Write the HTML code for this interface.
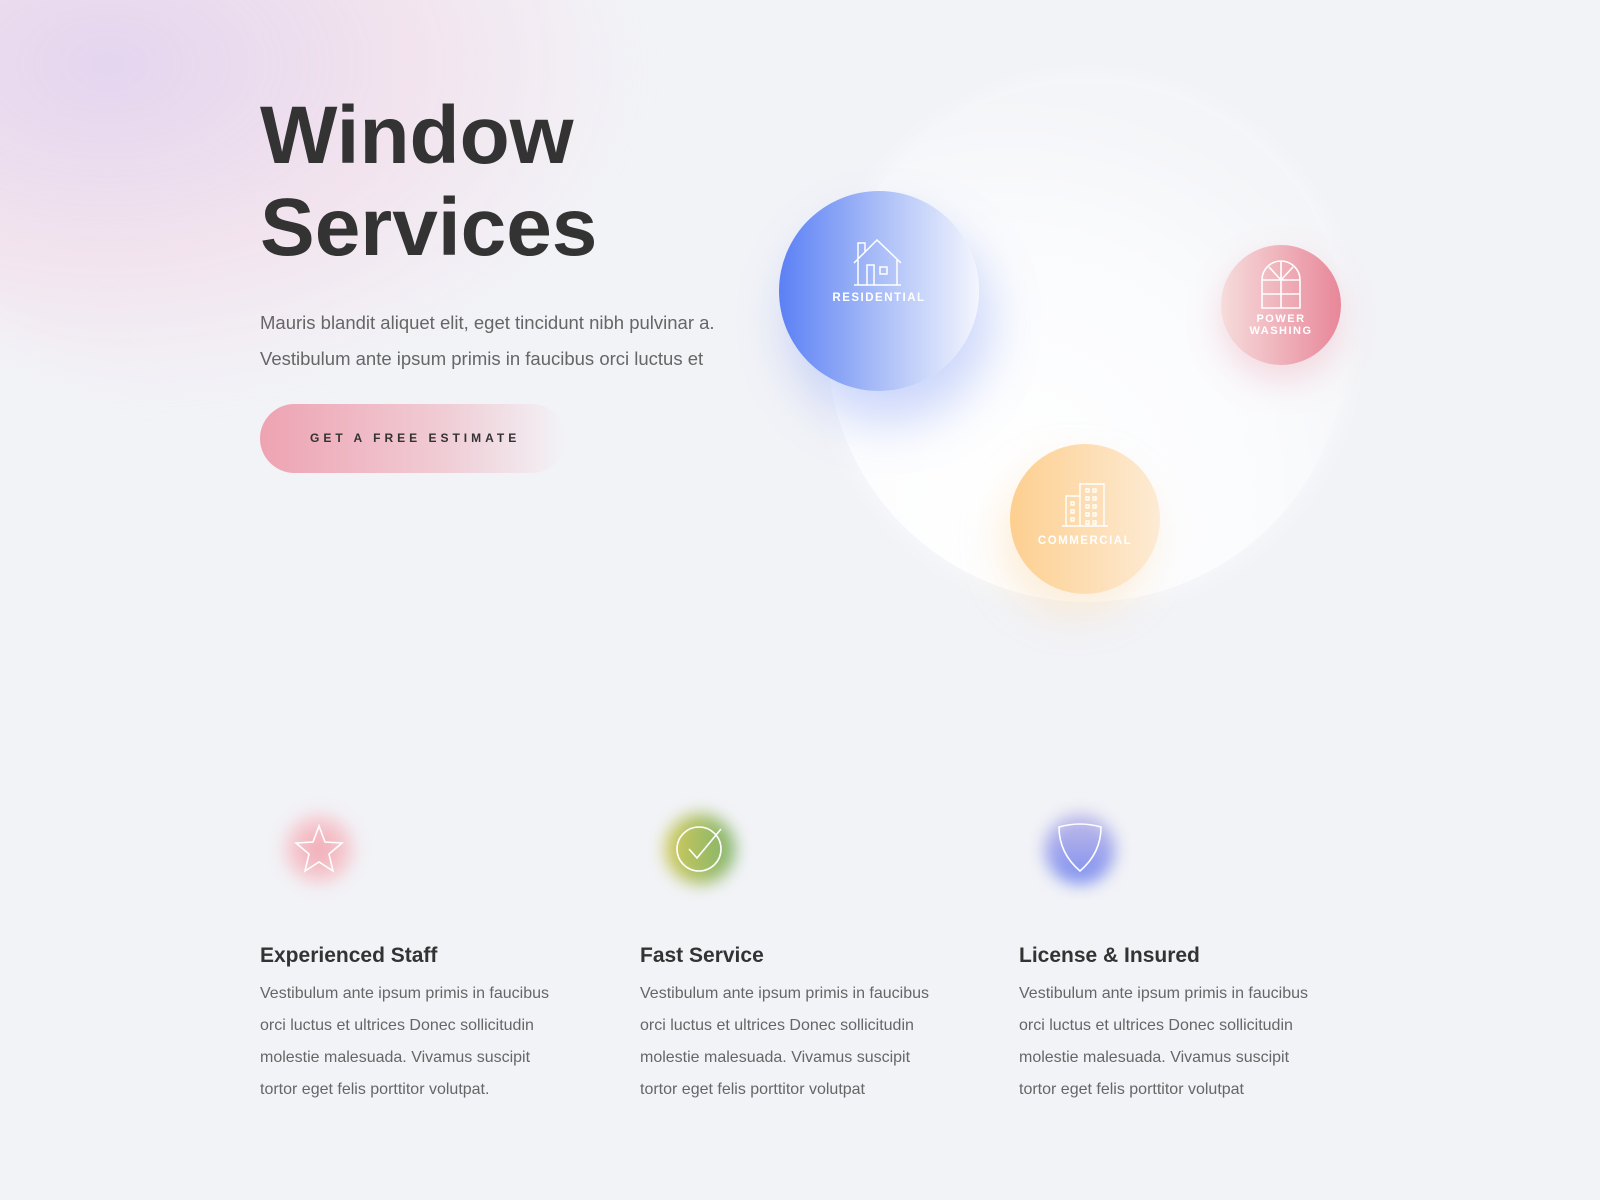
<!DOCTYPE html>
<html><head><meta charset="utf-8"><style>
*{margin:0;padding:0;box-sizing:border-box}
body{width:1600px;height:1200px;background:#f2f3f7;position:relative;overflow:hidden;font-family:"Liberation Sans",sans-serif}
.abs{position:absolute}
.blob{left:-120px;top:-160px;width:760px;height:560px;border-radius:50%;background:radial-gradient(ellipse at 30% 40%,rgba(222,200,236,.7),rgba(242,214,230,.55) 40%,rgba(242,243,247,0) 70%);filter:blur(20px)}
h1{position:absolute;left:260px;top:90px;font-size:82px;line-height:92px;font-weight:bold;color:#333;letter-spacing:0}
.p{left:260px;top:305px;font-size:18.5px;line-height:36px;color:#666}
.btn{left:260px;top:404px;width:306px;height:69px;border-radius:35px;background:linear-gradient(90deg,#eea3b2,#f0ccd5 60%,rgba(242,243,247,0));font-size:12px;font-weight:bold;letter-spacing:4px;color:#333;line-height:69px;padding-left:50px}
.big{left:827px;top:82px;width:520px;height:520px;border-radius:50%;background:radial-gradient(circle at 35% 80%,#fff,#fafbfd 50%,#f4f5f8 75%);box-shadow:0 0 30px rgba(255,255,255,.6)}
.c{border-radius:50%;color:#fff;font-weight:bold;text-align:center;letter-spacing:1.5px}
.res{left:779px;top:191px;width:200px;height:200px;background:linear-gradient(90deg,#5b80f5,#a9bdf7 50%,#f4f6fe);box-shadow:10px 30px 50px rgba(110,140,245,.35);font-size:11.5px}
.pw{left:1221px;top:245px;width:120px;height:120px;background:linear-gradient(90deg,#f6dcdc,#e88799);box-shadow:0 15px 35px rgba(232,140,160,.3);font-size:11px;line-height:12px}
.cm{left:1010px;top:444px;width:150px;height:150px;background:linear-gradient(90deg,#fdcf90,#fdebd4);box-shadow:-10px 20px 40px rgba(253,210,150,.35);font-size:11.5px}
.ic{width:70px;height:70px;border-radius:50%;filter:blur(8px)}
h3{position:absolute;top:944px;font-size:21px;font-weight:bold;color:#333}
.t{top:978px;font-size:16px;line-height:32px;color:#666;width:300px}
</style></head><body>
<div class="abs blob"></div>
<h1>Window<br>Services</h1>
<div class="abs p">Mauris blandit aliquet elit, eget tincidunt nibh pulvinar a.<br>Vestibulum ante ipsum primis in faucibus orci luctus et</div>
<div class="abs btn">GET A FREE ESTIMATE</div>
<div class="abs big"></div>
<div class="abs c res">
<svg class="abs" style="left:74px;top:48px" width="50" height="50" viewBox="0 0 50 50" fill="none" stroke="#fff" stroke-width="1.5"><path d="M1 24 L24 1 L48 24 M5 21 V46 M44 21 V46 M1 46 H48 M14 46 V26 H21 V46 M27 28 H34 V35 H27 Z M5 20 V4 H12 V13"/></svg>
<div class="abs" style="left:0;width:200px;top:101px">RESIDENTIAL</div></div>
<div class="abs c pw">
<svg class="abs" style="left:40px;top:15px" width="40" height="50" viewBox="0 0 40 50" fill="none" stroke="#fff" stroke-width="1.6"><path d="M1 48 V20 A19 19 0 0 1 39 20 V48 Z M1 20 H39 M20 1 V48 M1 34 H39 M20 20 L8 7 M20 20 L32 7"/></svg>
<div class="abs" style="left:0;width:120px;top:68px">POWER<br>WASHING</div></div>
<div class="abs c cm">
<svg class="abs" style="left:51px;top:36px" width="48" height="48" viewBox="0 0 48 48" fill="none" stroke="#fff" stroke-width="1.4"><path d="M1 46 H47 M5 46 V16 H19 M19 46 V4 H43 V46 M10 22h3v3h-3z M10 30h3v3h-3z M10 38h3v3h-3z M25 9h3v3h-3z M32 9h3v3h-3z M25 17h3v3h-3z M32 17h3v3h-3z M25 25h3v3h-3z M32 25h3v3h-3z M25 33h3v3h-3z M32 33h3v3h-3z M25 41h3v3h-3z M32 41h3v3h-3z"/></svg>
<div class="abs" style="left:0;width:150px;top:91px">COMMERCIAL</div></div>

<div class="abs ic" style="left:284px;top:814px;background:radial-gradient(#f1a9b4,#f5cdd3 60%,rgba(242,243,247,0))"></div>
<div class="abs ic" style="left:665px;top:814px;background:linear-gradient(90deg,#d2c95a,#7db36a);"></div>
<div class="abs ic" style="left:1045px;top:814px;background:linear-gradient(180deg,#c3bde8,#7b8ef0);"></div>
<svg class="abs" style="left:294px;top:823px" width="50" height="50" viewBox="0 0 50 50" fill="none" stroke="#fff" stroke-width="1.6"><path d="M25 3 L31 19 L48 20 L35 31 L39 48 L25 39 L11 48 L15 31 L2 20 L19 19 Z"/></svg>
<svg class="abs" style="left:675px;top:823px" width="50" height="50" viewBox="0 0 50 50" fill="none" stroke="#fff" stroke-width="1.6"><circle cx="24" cy="26" r="22"/><path d="M14 26 L22 35 L46 6"/></svg>
<svg class="abs" style="left:1055px;top:823px" width="50" height="50" viewBox="0 0 50 50" fill="none" stroke="#fff" stroke-width="1.6"><path d="M4 4 Q25 -2 46 4 Q46 30 25 48 Q4 30 4 4 Z"/></svg>

<h3 style="left:260px">Experienced Staff</h3>
<h3 style="left:640px">Fast Service</h3>
<h3 style="left:1019px">License &amp; Insured</h3>
<div class="abs t" style="left:260px">Vestibulum ante ipsum primis in faucibus orci luctus et ultrices Donec sollicitudin molestie malesuada. Vivamus suscipit tortor eget felis porttitor volutpat.</div>
<div class="abs t" style="left:640px">Vestibulum ante ipsum primis in faucibus orci luctus et ultrices Donec sollicitudin molestie malesuada. Vivamus suscipit tortor eget felis porttitor volutpat</div>
<div class="abs t" style="left:1019px">Vestibulum ante ipsum primis in faucibus orci luctus et ultrices Donec sollicitudin molestie malesuada. Vivamus suscipit tortor eget felis porttitor volutpat</div>
</body></html>
